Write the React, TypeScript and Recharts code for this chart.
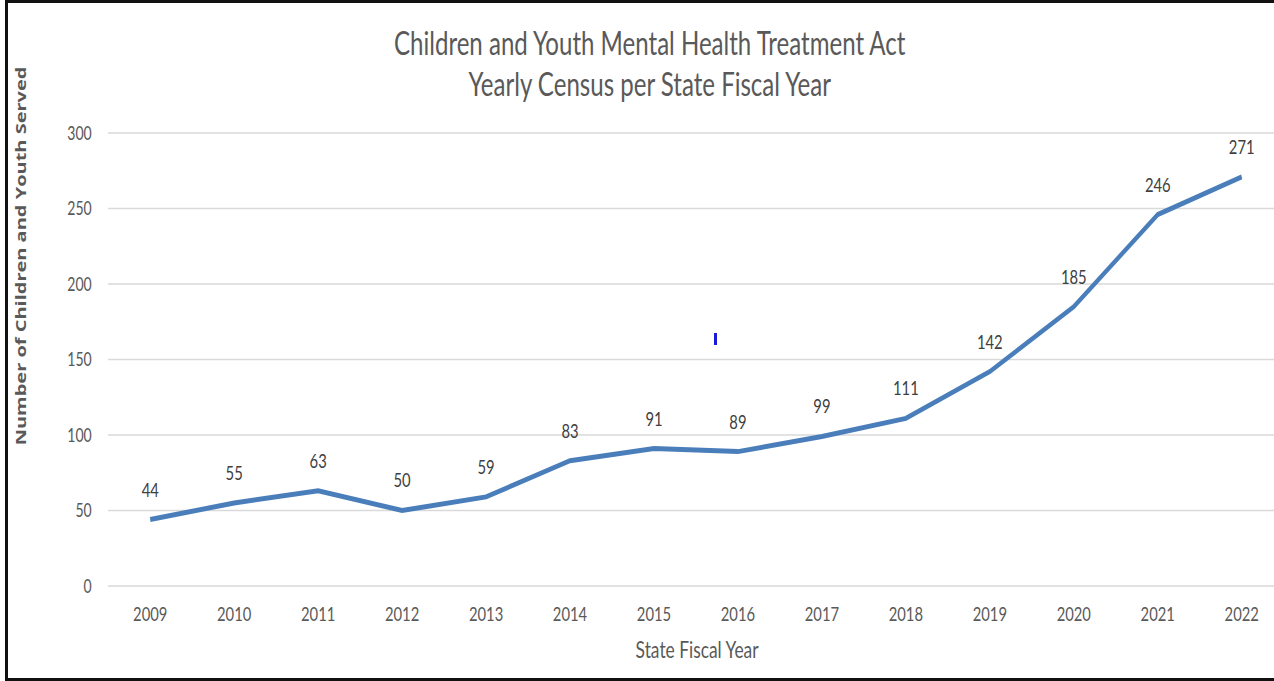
import React from "react";
import { LineChart, Line, XAxis, YAxis, CartesianGrid, LabelList, Label } from "recharts";

const years = ["2009", "2010", "2011", "2012", "2013", "2014", "2015", "2016", "2017", "2018", "2019", "2020", "2021", "2022"];
const served = [44, 55, 63, 50, 59, 83, 91, 89, 99, 111, 142, 185, 246, 271];
const yTicks = [0, 50, 100, 150, 200, 250, 300];
const titleLines = ["Children and Youth Mental Health Treatment Act", "Yearly Census per State Fiscal Year"];
const yLabel = "Number of Children and Youth Served";
const xLabel = "State Fiscal Year";

const data = years.map((year, i) => ({ year, served: served[i] }));
// boundary ticks between categories (Excel style "between tick marks")
const edgeTicks = [...years.map((_, i) => i), years.length];

// the reference looks squeezed horizontally, so the chart is drawn wider and squashed
const SX = 0.74;
const W = 1760;
const FONT = "Lato, 'Open Sans', sans-serif";
const BOLD_FONT = "'Open Sans', Lato, sans-serif";
const GREY = "#595959";

export default function App() {
  return (
    <div
      style={{
        position: "fixed",
        left: 0,
        top: 0,
        width: 1274,
        height: 681,
        overflow: "hidden",
        background: "#fff",
        fontFamily: FONT,
      }}
    >
      <div style={{ position: "absolute", left: 0, top: 0, width: W, height: 681, transform: `scaleX(${SX})`, transformOrigin: "0 0" }}>
        <LineChart width={W - 15} height={681} data={data} margin={{ top: 133, right: 10, left: 86, bottom: 55 }}>
          <CartesianGrid vertical={false} stroke="#d9d9d9" strokeWidth={1.5} />
          <XAxis
            xAxisId="edges"
            type="number"
            domain={[0, years.length]}
            ticks={edgeTicks}
            tick={false}
            tickSize={7}
            height={0}
            stroke="#c8c8c8"
            strokeWidth={1.5}
            allowDataOverflow
          />
          <XAxis
            dataKey="year"
            axisLine={false}
            tickLine={false}
            height={40}
            tickMargin={15}
            padding={{ left: 57, right: 57 }}
            tick={{ fontSize: 20, fill: GREY, fontFamily: FONT }}
            interval={0}
          >
            <Label
              content={() => (
                <text x={942} y={649} textAnchor="middle" dominantBaseline="central" fontSize={23.5} fill={GREY} fontFamily={FONT}>
                  {xLabel}
                </text>
              )}
            />
          </XAxis>
          <YAxis
            domain={[0, 300]}
            ticks={yTicks}
            axisLine={false}
            tickLine={false}
            width={60}
            tickMargin={16}
            tick={{ fontSize: 19, fill: GREY, fontFamily: FONT }}
          >
            <Label
              content={() => (
                <text
                  x={27}
                  y={256}
                  transform="rotate(-90 27 256)"
                  textAnchor="middle"
                  dominantBaseline="central"
                  fontSize={20}
                  fontWeight="bold"
                  fill={GREY}
                  fontFamily={BOLD_FONT}
                >
                  {yLabel}
                </text>
              )}
            />
          </YAxis>
          <Line type="linear" dataKey="served" stroke="#4A7EBB" strokeWidth={5} dot={false} isAnimationActive={false}>
            <LabelList dataKey="served" position="top" offset={23} fill="#404040" fontSize={20} fontFamily={FONT} />
          </Line>
        </LineChart>
        <div
          style={{
            position: "absolute",
            left: 0,
            top: 22,
            width: 1756,
            textAlign: "center",
            fontSize: 32.5,
            lineHeight: "41px",
            color: GREY,
          }}
        >
          {titleLines.map((t) => (
            <div key={t}>{t}</div>
          ))}
        </div>
      </div>
      <div style={{ position: "absolute", left: 714, top: 333, width: 3, height: 12, background: "#1a1ad8" }} />
      <div
        style={{
          position: "absolute",
          left: 5,
          top: 0,
          width: 1300,
          height: 681,
          border: "3px solid #111",
          boxSizing: "border-box",
        }}
      />
    </div>
  );
}
